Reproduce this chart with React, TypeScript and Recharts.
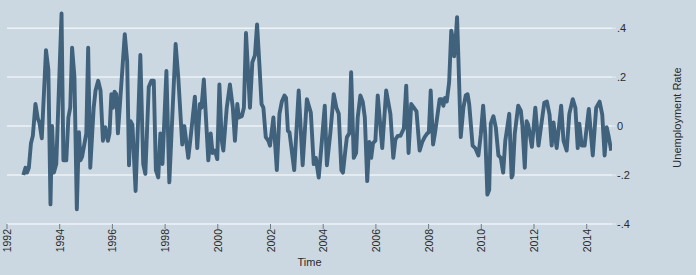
import React from 'react';
import { LineChart, Line, XAxis, YAxis, CartesianGrid, Label } from 'recharts';

const times = [
  1992.62, 1992.70, 1992.76, 1992.83, 1992.91, 1992.98, 1993.08, 1993.17, 1993.23, 1993.32,
  1993.48, 1993.57, 1993.65, 1993.71, 1993.78, 1993.87, 1994.07, 1994.14, 1994.25, 1994.33,
  1994.40, 1994.47, 1994.56, 1994.65, 1994.73, 1994.79, 1994.85, 1995.01, 1995.08, 1995.16,
  1995.29, 1995.36, 1995.46, 1995.55, 1995.64, 1995.73, 1995.83, 1995.89, 1995.96, 1996.02,
  1996.08, 1996.15, 1996.21, 1996.47, 1996.56, 1996.63, 1996.69, 1996.76, 1996.88, 1996.98,
  1997.06, 1997.17, 1997.25, 1997.38, 1997.48, 1997.57, 1997.65, 1997.74, 1997.82, 1997.90,
  1998.05, 1998.16, 1998.27, 1998.40, 1998.50, 1998.65, 1998.73, 1998.88, 1998.97, 1999.13,
  1999.22, 1999.32, 1999.38, 1999.47, 1999.64, 1999.73, 1999.80, 1999.89, 1999.98, 2000.06,
  2000.15, 2000.21, 2000.34, 2000.46, 2000.57, 2000.65, 2000.74, 2000.80, 2000.91, 2000.99,
  2001.07, 2001.16, 2001.22, 2001.31, 2001.41, 2001.49, 2001.58, 2001.66, 2001.73, 2001.82,
  2001.92, 2001.98, 2002.11, 2002.24, 2002.34, 2002.43, 2002.53, 2002.59, 2002.66, 2002.72,
  2002.90, 2003.07, 2003.22, 2003.38, 2003.53, 2003.64, 2003.72, 2003.83, 2003.95, 2004.06,
  2004.14, 2004.27, 2004.40, 2004.50, 2004.59, 2004.69, 2004.75, 2004.84, 2004.90, 2004.99,
  2005.06, 2005.16, 2005.25, 2005.31, 2005.41, 2005.50, 2005.58, 2005.67, 2005.75, 2005.82,
  2005.89, 2005.98, 2006.07, 2006.24, 2006.39, 2006.55, 2006.66, 2006.74, 2006.83, 2006.93,
  2007.06, 2007.15, 2007.24, 2007.34, 2007.44, 2007.54, 2007.66, 2007.76, 2007.85, 2007.95,
  2008.01, 2008.08, 2008.17, 2008.24, 2008.42, 2008.49, 2008.56, 2008.62, 2008.69, 2008.78,
  2008.86, 2008.93, 2008.97, 2009.04, 2009.08, 2009.13, 2009.22, 2009.32, 2009.41, 2009.48,
  2009.54, 2009.67, 2009.77, 2009.89, 2009.98, 2010.07, 2010.15, 2010.23, 2010.30, 2010.36,
  2010.46, 2010.55, 2010.65, 2010.74, 2010.83, 2010.91, 2010.98, 2011.06, 2011.15, 2011.19,
  2011.27, 2011.40, 2011.50, 2011.56, 2011.65, 2011.72, 2011.78, 2011.86, 2011.92, 2012.05,
  2012.17, 2012.27, 2012.39, 2012.49, 2012.59, 2012.67, 2012.74, 2012.86, 2013.03, 2013.12,
  2013.24, 2013.34, 2013.47, 2013.57, 2013.66, 2013.72, 2013.81, 2013.92, 2014.08, 2014.23,
  2014.36, 2014.49, 2014.59, 2014.68, 2014.76, 2014.83, 2014.93,
];

const rates = [
  -0.20, -0.17, -0.19, -0.17, -0.07, -0.04, 0.09, 0.03, 0.015, -0.05,
  0.31, 0.23, -0.32, 0.00, -0.19, -0.155, 0.46, -0.14, -0.14, 0.035,
  0.075, 0.32, 0.20, -0.34, -0.025, -0.14, -0.125, -0.03, 0.32, -0.17,
  0.075, 0.145, 0.185, 0.145, -0.06, -0.005, -0.06, -0.03, 0.13, 0.075,
  0.14, 0.13, -0.03, 0.375, 0.265, -0.16, 0.02, 0.005, -0.265, 0.035,
  0.29, -0.155, -0.195, 0.16, 0.185, 0.185, -0.18, -0.21, -0.03, -0.155,
  0.225, -0.23, 0.03, 0.335, 0.20, -0.075, 0.00, -0.13, -0.045, 0.12,
  -0.09, 0.09, 0.075, 0.19, -0.14, -0.03, -0.11, -0.10, -0.135, 0.17,
  -0.06, -0.10, 0.075, 0.17, 0.075, -0.06, 0.09, 0.035, 0.04, 0.075,
  0.38, 0.20, 0.075, 0.26, 0.29, 0.415, 0.25, 0.09, 0.075, -0.045,
  -0.06, -0.08, 0.035, -0.18, 0.05, 0.10, 0.125, 0.115, -0.02, -0.025,
  -0.18, 0.145, -0.16, 0.11, 0.055, -0.155, -0.13, -0.21, -0.06, 0.083,
  -0.16, -0.03, 0.13, 0.075, 0.05, -0.18, -0.19, -0.10, -0.045, -0.03,
  0.22, -0.13, -0.11, 0.035, 0.125, 0.10, 0.035, -0.225, -0.065, -0.13,
  -0.07, -0.06, 0.125, -0.09, 0.145, 0.05, -0.13, -0.055, -0.04, -0.04,
  -0.01, 0.165, -0.11, 0.09, 0.075, 0.06, -0.10, -0.065, -0.045, -0.03,
  -0.025, 0.145, -0.075, -0.03, 0.11, 0.11, 0.083, 0.115, 0.10, 0.18,
  0.39, 0.35, 0.285, 0.375, 0.445, 0.28, -0.045, 0.075, 0.125, 0.13,
  0.09, -0.08, -0.09, -0.12, -0.035, 0.083, -0.035, -0.28, -0.26, 0.01,
  0.04, -0.005, -0.12, -0.13, -0.19, -0.06, -0.01, 0.05, -0.21, -0.20,
  -0.03, 0.083, 0.063, 0.00, -0.17, 0.02, 0.005, -0.045, -0.085, 0.075,
  -0.08, 0.00, 0.095, 0.10, 0.047, -0.08, 0.015, -0.09, 0.083, -0.06,
  -0.10, 0.05, 0.11, 0.075, -0.09, 0.01, -0.08, -0.08, 0.07, -0.12,
  0.075, 0.10, 0.047, -0.12, -0.005, -0.04, -0.10,
];

const yearTicks = [1992, 1994, 1996, 1998, 2000, 2002, 2004, 2006, 2008, 2010, 2012, 2014];
const rateTicks = [-0.4, -0.2, 0, 0.2, 0.4];

const data = times.map((t, i) => ({ t, rate: rates[i] }));

const BG = '#ccd8e1';
const FONT = '"Liberation Sans", Arial, Helvetica, sans-serif';

const fmtRate = (v: number) =>
  v === 0 ? '0' : (v < 0 ? '-' : '') + Math.abs(v).toFixed(1).replace(/^0/, '');

const XTick = (props: any) => {
  const { x, y, payload } = props;
  return (
    <text
      x={x}
      y={y}
      transform={`rotate(-90 ${x} ${y})`}
      textAnchor="end"
      dominantBaseline="central"
      fontSize={10.5}
      fontFamily={FONT}
      fill="#2a2a2a"
    >
      {payload.value}
    </text>
  );
};

const YTitle = (props: any) => {
  const vb = props.viewBox || {};
  const cx = vb.x + vb.width - 19;
  const cy = vb.y + vb.height / 2;
  return (
    <text
      x={cx}
      y={cy}
      transform={`rotate(-90 ${cx} ${cy})`}
      textAnchor="middle"
      dominantBaseline="central"
      fontSize={11}
      fontFamily={FONT}
      fill="#2a2a2a"
    >
      Unemployment Rate
    </text>
  );
};

export default function App() {
  return (
    <div style={{ position: 'absolute', left: 0, top: 0, width: 696, height: 275, background: BG }}>
      <LineChart
        width={696}
        height={275}
        data={data}
        margin={{ top: 11, right: 0, bottom: 0, left: 7 }}
      >
        <CartesianGrid
          horizontal={true}
          vertical={false}
          stroke="#eef3f6"
          strokeWidth={1.5}
          horizontalValues={rateTicks}
        />
        <XAxis
          dataKey="t"
          type="number"
          domain={[1992, 2014.96]}
          ticks={yearTicks}
          interval={0}
          height={51}
          tickSize={5}
          tickMargin={0}
          tick={<XTick />}
          axisLine={{ stroke: '#e6ecf0', strokeWidth: 1.5 }}
          tickLine={{ stroke: '#6f7c86' }}
          allowDataOverflow
        >
          <Label
            value="Time"
            position="insideBottom"
            offset={9}
            style={{ fontSize: 11, fontFamily: FONT, fill: '#2a2a2a' }}
          />
        </XAxis>
        <YAxis
          orientation="right"
          type="number"
          domain={[-0.4, 0.47]}
          ticks={rateTicks}
          interval={0}
          width={84}
          tickSize={4}
          tickMargin={1}
          axisLine={false}
          tickLine={{ stroke: '#e6ecf0' }}
          tickFormatter={fmtRate}
          tick={{ fontSize: 11, fontFamily: FONT, fill: '#2a2a2a', textAnchor: 'start' }}
          allowDataOverflow
          label={<YTitle />}
        />
        <Line
          type="linear"
          dataKey="rate"
          stroke="#40627c"
          strokeWidth={3.9}
          strokeLinejoin="round"
          dot={false}
          activeDot={false}
          isAnimationActive={false}
        />
      </LineChart>
    </div>
  );
}
